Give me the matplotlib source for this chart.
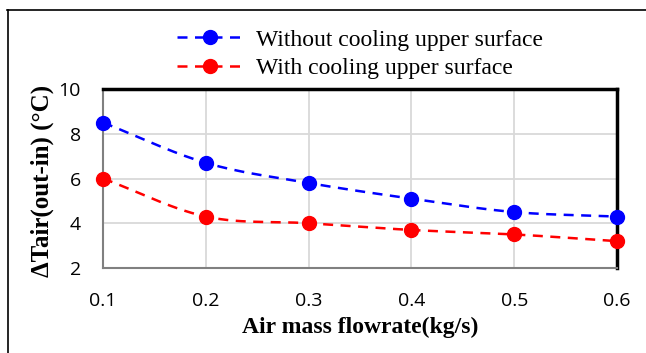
import numpy as np
import matplotlib.pyplot as plt
from matplotlib.lines import Line2D

flow = [0.1, 0.2, 0.3, 0.4, 0.5, 0.6]
without_cooling = [8.5, 6.7, 5.8, 5.1, 4.5, 4.3]
with_cooling = [6.0, 4.3, 4.0, 3.7, 3.5, 3.2]
labels = ['Without cooling upper surface', 'With cooling upper surface']
colors = ['#0000ff', '#ff0000']


def smooth(x, y, n=30):
    # catmull-rom style curve through the points (like Excel "smoothed line")
    x = np.asarray(x, float)
    y = np.asarray(y, float)
    px = np.concatenate([[2 * x[0] - x[1]], x, [2 * x[-1] - x[-2]]])
    py = np.concatenate([[2 * y[0] - y[1]], y, [2 * y[-1] - y[-2]]])
    xs, ys = [], []
    t = np.linspace(0, 1, n)
    for i in range(1, len(px) - 2):
        for p, out in ((px, xs), (py, ys)):
            p0, p1, p2, p3 = p[i - 1], p[i], p[i + 1], p[i + 2]
            out.extend(0.5 * ((2 * p1) + (-p0 + p2) * t
                              + (2 * p0 - 5 * p1 + 4 * p2 - p3) * t ** 2
                              + (-p0 + 3 * p1 - 3 * p2 + p3) * t ** 3))
    return xs, ys


fig = plt.figure(figsize=(6.46, 3.53), dpi=100)
ax = fig.add_axes([103 / 646, 1 - 268 / 353, 514 / 646, 179 / 353])

for yv, c in zip([without_cooling, with_cooling], colors):
    sx, sy = smooth(flow, yv)
    ax.plot(sx, sy, color=c, lw=1.8, ls=(0, (4, 3)), zorder=3)
    ax.plot(flow, yv, 'o', color=c, ms=10, zorder=4, clip_on=False)

ax.set_xlim(0.1, 0.6)
ax.set_ylim(2, 10)
ax.set_xticks(flow)
ax.set_yticks([2, 4, 6, 8, 10])
ax.grid(True, color='#d9d9d9', lw=1.3)
ax.set_axisbelow(True)
ax.tick_params(length=0, labelsize=14)
ax.tick_params(axis='x', pad=17)
ax.tick_params(axis='y', pad=16)
for lab in ax.get_xticklabels() + ax.get_yticklabels():
    lab.set_family('Open Sans')
for s in ['left', 'bottom']:
    ax.spines[s].set_color('#808080')
    ax.spines[s].set_linewidth(1.5)
for s in ['top', 'right']:
    ax.spines[s].set_color('black')
    ax.spines[s].set_linewidth(2.5)

ax.set_xlabel('Air mass flowrate(kg/s)', family='Liberation Serif',
              fontweight='bold', fontsize=17, labelpad=5)
fig.text(42 / 646, 1 - 181 / 353, 'ΔTair(out-in) (°C)', family='Liberation Serif',
         fontweight='bold', fontsize=18, rotation=90, ha='center', va='center')

handles = [Line2D([], [], color=c, lw=1.8, ls=(0, (4, 3)), marker='o', ms=10)
           for c in colors]
fig.legend(handles, labels, loc='center left', bbox_to_anchor=(156 / 646, 1 - 54 / 353),
           frameon=False, prop={'family': 'Liberation Serif', 'size': 17},
           handlelength=2.8, handletextpad=0.55, labelspacing=0.28)

# outer frame lines (top and left)
fig.add_artist(Line2D([7 / 646, 1], [1 - 10 / 353] * 2, transform=fig.transFigure,
                      color='black', lw=1.2))
fig.add_artist(Line2D([8 / 646] * 2, [0, 1 - 10 / 353], transform=fig.transFigure,
                      color='black', lw=1.2))

fig.savefig('out.png', dpi=100)
